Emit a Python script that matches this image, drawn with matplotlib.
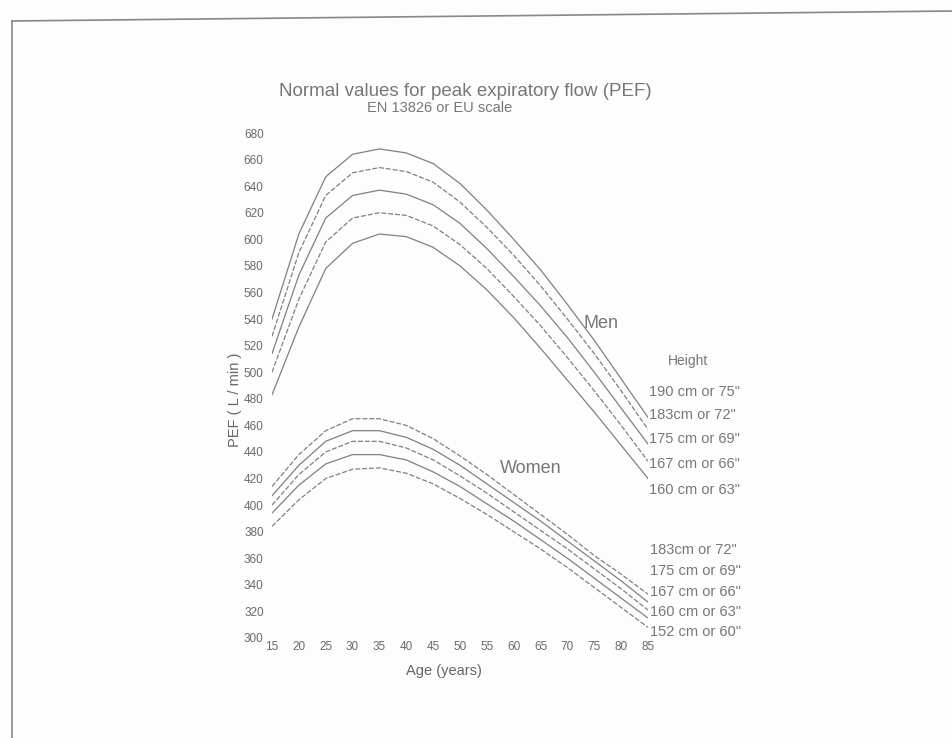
import matplotlib
matplotlib.use("Agg")
import matplotlib.pyplot as plt
from matplotlib.lines import Line2D

plt.rcParams['font.family'] = ['Liberation Sans', 'DejaVu Sans']

ages = [15, 20, 25, 30, 35, 40, 45, 50, 55, 60, 65, 70, 75, 80, 85]

men_190 = [540, 604, 647, 664, 668, 665, 657, 642, 622, 600, 577, 551, 524, 495, 466]
men_183 = [527, 590, 633, 650, 654, 651, 643, 628, 609, 588, 565, 540, 514, 486, 457]
men_175 = [514, 573, 616, 633, 637, 634, 626, 612, 593, 572, 550, 526, 500, 473, 446]
men_167 = [500, 555, 598, 616, 620, 618, 610, 596, 578, 557, 535, 511, 486, 460, 433]
men_160 = [483, 534, 578, 597, 604, 602, 594, 580, 562, 541, 518, 494, 470, 445, 420]

women_183 = [414, 438, 456, 465, 465, 460, 450, 437, 423, 408, 393, 378, 362, 348, 333]
women_175 = [407, 430, 448, 456, 456, 451, 442, 430, 416, 402, 388, 373, 358, 343, 327]
women_167 = [400, 423, 440, 448, 448, 443, 434, 422, 409, 395, 381, 367, 352, 337, 321]
women_160 = [394, 415, 431, 438, 438, 434, 425, 414, 401, 388, 374, 360, 345, 330, 315]
women_152 = [384, 404, 420, 427, 428, 424, 416, 405, 393, 380, 367, 353, 338, 323, 308]

men_labels = ['190 cm or 75"', '183cm or 72"', '175 cm or 69"', '167 cm or 66"', '160 cm or 63"']
women_labels = ['183cm or 72"', '175 cm or 69"', '167 cm or 66"', '160 cm or 63"', '152 cm or 60"']

x_ticks = list(range(15, 90, 5))
y_ticks = list(range(300, 700, 20))

title = "Normal values for peak expiratory flow (PEF)"
subtitle = "EN 13826 or EU scale"

W, H = 953, 738
fig = plt.figure(figsize=(W / 100, H / 100), dpi=100)
fig.patch.set_facecolor('#fdfdfd')

def fx(px):
    return px / W

def fy(py):
    return 1 - py / H

ax = fig.add_axes([fx(272), fy(638), fx(648) - fx(272), fy(133) - fy(638)])
ax.set_facecolor('none')
ax.set_xlim(15, 85)
ax.set_ylim(300, 680)
for s in ax.spines.values():
    s.set_visible(False)

line_col = '#808080'
men = [men_190, men_183, men_175, men_167, men_160]
women = [women_183, women_175, women_167, women_160, women_152]
styles_m = ['-', (0, (4, 1.5)), '-', (0, (4, 1.5)), '-']
styles_w = [(0, (4, 1.5)), '-', (0, (4, 1.5)), '-', (0, (4, 1.5))]
for vals, ls in zip(men, styles_m):
    ax.plot(ages, vals, color=line_col, lw=0.9, ls=ls)
for vals, ls in zip(women, styles_w):
    ax.plot(ages, vals, color=line_col, lw=0.9, ls=ls)

ax.set_xticks(x_ticks)
ax.set_yticks(y_ticks)
ax.tick_params(length=0, labelsize=8.5, colors='#6a6a6a')
ax.tick_params(axis='x', pad=2)
ax.tick_params(axis='y', pad=6)

ax.set_xlabel("Age (years)", fontsize=10.5, color='#666666')
ax.xaxis.set_label_coords((444 - 272) / 376, -(664 - 638) / 505)
ax.set_ylabel("PEF ( L / min )", fontsize=10.5, color='#666666')
ax.yaxis.set_label_coords(-(272 - 242) / 376, (638 - 400) / 505)

fig.text(fx(465), fy(92), title, ha='center', va='center', fontsize=13.5, color='#777777')
fig.text(fx(440), fy(108), subtitle, ha='center', va='center', fontsize=10.5, color='#777777')

fig.text(fx(601), fy(323), "Men", ha='center', va='center', fontsize=13, color='#777777')
fig.text(fx(531), fy(469), "Women", ha='center', va='center', fontsize=13, color='#777777')
fig.text(fx(668), fy(361), "Height", ha='left', va='center', fontsize=10, color='#777777')

men_label_y = [392, 415, 439, 464, 490]
women_label_y = [550, 571, 592, 612, 632]
for lab, py in zip(men_labels, men_label_y):
    fig.text(fx(649), fy(py), lab, ha='left', va='center', fontsize=10.5, color='#777777')
for lab, py in zip(women_labels, women_label_y):
    fig.text(fx(650), fy(py), lab, ha='left', va='center', fontsize=10.5, color='#777777')

# page frame of the scanned sheet
fig.add_artist(Line2D([fx(12), fx(953)], [fy(21), fy(11)], color='#888888', lw=1.2))
fig.add_artist(Line2D([fx(12), fx(12)], [fy(21), fy(738)], color='#888888', lw=1.2))

fig.savefig("out.png", dpi=100, facecolor=fig.get_facecolor())
